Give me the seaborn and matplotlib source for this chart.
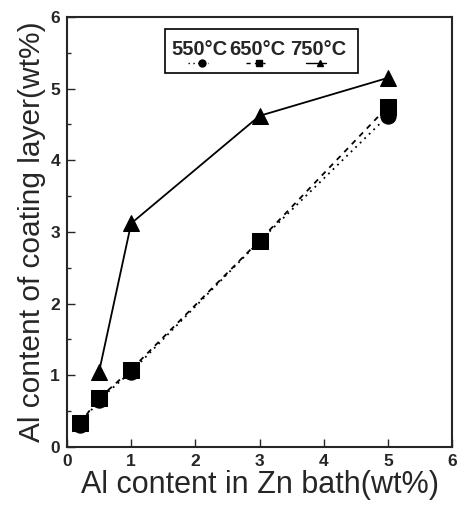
import matplotlib
matplotlib.use("Agg")
import matplotlib.pyplot as plt
import seaborn as sns
import pandas as pd
from matplotlib.patches import Rectangle

sns.set_style("ticks")
plt.rcParams['font.family'] = ['Liberation Sans', 'DejaVu Sans']

series = ["550°C", "650°C", "750°C"]
x_550 = [0.2, 0.5, 1, 3, 5]
y_550 = [0.30, 0.66, 1.05, 2.87, 4.62]
x_650 = [0.2, 0.5, 1, 3, 5]
y_650 = [0.33, 0.68, 1.08, 2.88, 4.75]
x_750 = [0.5, 1, 3, 5]
y_750 = [1.05, 3.12, 4.62, 5.15]

df = pd.concat([
    pd.DataFrame({"x": x_550, "y": y_550, "T": series[0]}),
    pd.DataFrame({"x": x_650, "y": y_650, "T": series[1]}),
    pd.DataFrame({"x": x_750, "y": y_750, "T": series[2]}),
])

fig = plt.figure(figsize=(4.66, 5.05), dpi=100)
ax = fig.add_axes([0.1438, 0.1149, 0.8262, 0.8515])

markers = {"550°C": "o", "650°C": "s", "750°C": "^"}
dashes = {"550°C": (1, 2.5), "650°C": (3, 3), "750°C": ""}
sns.lineplot(data=df, x="x", y="y", hue="T", style="T",
             palette={s: "black" for s in series}, markers=markers,
             dashes=dashes, markersize=11, markeredgecolor="black",
             linewidth=1.3, ax=ax, legend=False, sort=False)

ax.set_xlim(0, 6)
ax.set_ylim(0, 6)
ax.set_xticks(range(0, 7))
ax.set_yticks(range(0, 7))
ax.set_yticks([i + 0.5 for i in range(6)], minor=True)
ax.tick_params(axis="both", which="both", direction="in", width=1.0)
ax.tick_params(axis="both", which="major", length=6, labelsize=12.5, pad=5)
ax.tick_params(axis="both", which="minor", length=3)
for lab in ax.get_xticklabels() + ax.get_yticklabels():
    lab.set_fontweight("bold")
for sp in ax.spines.values():
    sp.set_visible(True)
    sp.set_linewidth(1.5)

ax.set_xlabel("Al content in Zn bath(wt%)", fontsize=22, labelpad=1)
ax.set_ylabel("Al content of coating layer(wt%)", fontsize=21.5, labelpad=3)

# legend box drawn manually (labels with markers beneath)
box = Rectangle((0.255, 0.870), 0.50, 0.102, transform=ax.transAxes,
                fill=False, edgecolor="black", linewidth=1.2)
ax.add_patch(box)
lx = [0.345, 0.494, 0.652]
for xx, s in zip(lx, series):
    ax.text(xx, 0.925, s, transform=ax.transAxes, ha="center", va="center",
            fontsize=14.5, fontweight="bold")
    ax.plot([xx - 0.03, xx + 0.02], [0.892, 0.892], transform=ax.transAxes,
            color="black", linewidth=1, linestyle=(0, dashes[s]) if dashes[s] else "-")
    ax.plot([xx + 0.005], [0.892], transform=ax.transAxes, marker=markers[s],
            color="black", markersize=5, linestyle="none")

fig.savefig("out.png", dpi=100)
